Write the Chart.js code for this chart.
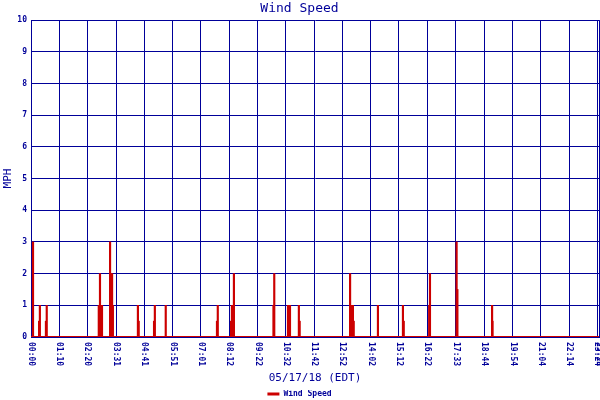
<!DOCTYPE html>
<html>
<head>
<meta charset="utf-8">
<script src="https://cdn.jsdelivr.net/npm/chart.js@4/dist/chart.umd.min.js"></script>
<style>
  html, body { margin: 0; padding: 0; background: #fff; }
  #wrap { width: 600px; height: 400px; }
</style>
</head>
<body>
<div id="wrap"><canvas id="wind" width="600" height="400"></canvas></div>
<script>
// minutes after midnight for each non-zero reading, and its speed in mph
const spikeMinutes = [5, 20, 22, 37, 39, 168, 171, 173, 176, 196, 198, 201, 203, 265, 267, 305, 307, 334,
  461, 463, 496, 498, 500, 503, 601, 603, 637, 639, 642, 664, 666, 791, 793, 798, 800, 860, 922, 924,
  987, 989, 1055, 1057, 1143, 1144];
const spikeMph = [3, 0.5, 1, 0.5, 1, 1, 2, 0.5, 1, 3, 2, 2, 1, 1, 0.5, 0.5, 1, 1,
  0.5, 1, 0.5, 1, 1, 2, 1, 2, 1, 0.5, 1, 1, 0.5, 2, 1, 1, 0.5, 1, 1, 0.5,
  1, 2, 3, 1.5, 1, 0.5];

// x axis ticks (minutes) and their labels
const tickMinutes = [0, 70, 140, 211, 281, 351, 421, 492, 562, 632, 702, 772, 842, 912, 982, 1053,
  1124, 1194, 1264, 1334, 1404, 1408];
const tickLabels = ['00:00', '01:10', '02:20', '03:31', '04:41', '05:51', '07:01', '08:12', '09:22',
  '10:32', '11:42', '12:52', '14:02', '15:12', '16:22', '17:33', '18:44', '19:54', '21:04', '22:14',
  '23:24', '23:28'];
const dayStart = 0;
const dayEnd = 1408;

const navy = '#000099';
const red = '#cc0000';
const mono = '"DejaVu Sans Mono", monospace';

// rotated time labels, reading top to bottom
const xLabels = {
  id: 'xLabels',
  afterDraw(chart) {
    const { ctx, chartArea } = chart;
    const x = chart.scales.x;
    ctx.save();
    ctx.font = 'bold 8px ' + mono;
    ctx.fillStyle = navy;
    ctx.textAlign = 'left';
    ctx.textBaseline = 'middle';
    tickMinutes.forEach((m, i) => {
      ctx.save();
      ctx.translate(x.getPixelForValue(m), chartArea.bottom + 5);
      ctx.rotate(Math.PI / 2);
      ctx.fillText(tickLabels[i], 0, 0);
      ctx.restore();
    });
    ctx.restore();
  }
};

new Chart(document.getElementById('wind'), {
  type: 'bar',
  data: {
    datasets: [
      {
        label: 'Wind Speed',
        data: spikeMinutes.map((m, i) => ({ x: m, y: spikeMph[i] })),
        backgroundColor: red,
        borderWidth: 0,
        barThickness: 1.5,
        grouped: false
      },
      {
        type: 'line',
        label: 'base',
        data: [{ x: dayStart, y: 0 }, { x: dayEnd, y: 0 }],
        borderColor: red,
        borderWidth: 2,
        pointRadius: 0
      }
    ]
  },
  plugins: [xLabels],
  options: {
    responsive: false,
    animation: false,
    layout: { padding: { left: 0, right: 1, top: 0, bottom: -8 } },
    plugins: {
      title: {
        display: true,
        text: 'Wind Speed',
        color: navy,
        font: { family: mono, size: 13, weight: 'normal' },
        padding: { top: 1, bottom: 3.5 }
      },
      legend: {
        position: 'bottom',
        labels: {
          color: navy,
          font: { family: mono, size: 8, weight: 'bold' },
          boxWidth: 12,
          boxHeight: 3,
          padding: 0,
          filter: item => item.text === 'Wind Speed'
        }
      },
      tooltip: { enabled: false }
    },
    scales: {
      x: {
        type: 'linear',
        min: dayStart,
        max: dayEnd,
        offset: false,
        afterBuildTicks: s => { s.ticks = tickMinutes.map(v => ({ value: v })); },
        afterFit: s => { s.height = 53; },
        grid: { color: navy, lineWidth: 1, drawTicks: false, offset: false },
        border: { color: navy, width: 1 },
        ticks: { display: false },
        title: {
          display: true,
          text: '05/17/18 (EDT)',
          color: navy,
          font: { family: mono, size: 11 },
          padding: { top: 0, bottom: 5 }
        }
      },
      y: {
        min: 0,
        max: 10,
        afterFit: s => { s.width = 31; },
        grid: { color: navy, lineWidth: 1, drawTicks: false },
        border: { color: navy, width: 1 },
        ticks: {
          stepSize: 1,
          padding: 4,
          color: navy,
          font: { family: mono, size: 8, weight: 'bold' }
        },
        title: {
          display: true,
          text: 'MPH',
          color: navy,
          font: { family: mono, size: 11 },
          padding: { top: 2, bottom: 0 }
        }
      }
    }
  }
});
</script>
</body>
</html>
